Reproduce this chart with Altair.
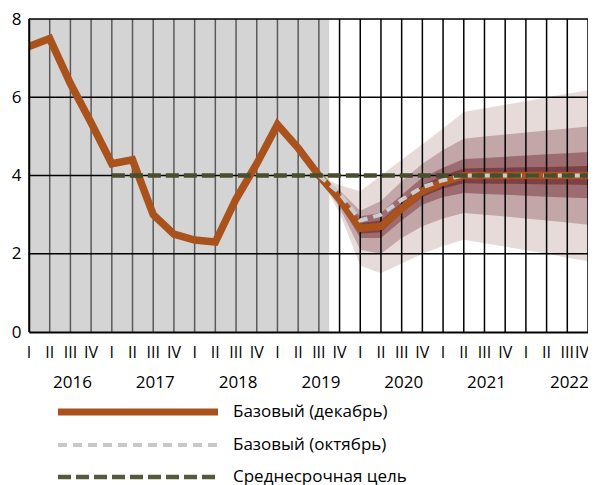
import altair as alt
import pandas as pd

# ---------------- data ----------------
quarter_labels = ["I", "II", "III", "IV"]
years = ["2016", "2017", "2018", "2019", "2020", "2021", "2022"]

# December baseline (actual + forecast), one value per quarter 2016Q1..2022Q4
dec_values = [7.3, 7.5, 6.35, 5.35, 4.3, 4.4, 3.0, 2.5, 2.35, 2.3, 3.4, 4.3,
              5.3, 4.7, 4.0, 3.4, 2.65, 2.7, 3.15, 3.6, 3.83, 4.0, 4.0, 4.0,
              4.0, 4.0, 4.0, 4.0]
# October baseline, from 2019Q3
oct_start = 14
oct_values = [4.0, 3.55, 2.85, 3.0, 3.38, 3.7, 3.88, 4.0, 4.0, 4.0, 4.0, 4.0, 4.0, 4.0]
# medium-term target, from 2017Q1
target_start = 4
target_value = 4.0
# history shading ends between 2019Q3 and 2019Q4
history_end = 14.5

# fan chart bands (from 2019Q3), outer to inner
fan_start = 14
band1_hi = [4.0, 3.75, 3.6, 4.0, 4.4, 4.8, 5.2, 5.62, 5.72, 5.81, 5.9, 6.0, 6.09, 6.18]
band1_lo = [4.0, 3.05, 1.7, 1.5, 1.75, 2.0, 2.2, 2.36, 2.27, 2.18, 2.09, 2.0, 1.9, 1.81]
band2_hi = [4.0, 3.62, 3.1, 3.35, 3.85, 4.3, 4.65, 4.94, 5.0, 5.05, 5.1, 5.15, 5.2, 5.25]
band2_lo = [4.0, 3.18, 2.1, 2.0, 2.4, 2.7, 2.9, 3.04, 3.0, 2.95, 2.9, 2.85, 2.8, 2.74]
band3_hi = [4.0, 3.52, 2.95, 3.05, 3.5, 3.95, 4.2, 4.42, 4.45, 4.48, 4.51, 4.54, 4.57, 4.6]
band3_lo = [4.0, 3.28, 2.4, 2.4, 2.85, 3.25, 3.45, 3.55, 3.53, 3.51, 3.48, 3.46, 3.44, 3.42]
band4_hi = [4.0, 3.46, 2.78, 2.85, 3.3, 3.75, 4.0, 4.18, 4.19, 4.2, 4.21, 4.22, 4.23, 4.24]
band4_lo = [4.0, 3.34, 2.52, 2.55, 3.05, 3.45, 3.67, 3.80, 3.79, 3.79, 3.78, 3.77, 3.77, 3.76]

y_grid = [2, 4, 6, 8]
legend_labels = ["Базовый (декабрь)", "Базовый (октябрь)", "Среднесрочная цель"]

# ---------------- styling ----------------
FONT = "Open Sans"
W, H = 559, 313
ORANGE = "#aa521b"
GRAYLINE = "#cccccc"
GREEN = "#474d2d"
band_colors = ["#e6dbd8", "#c3a6a8", "#9d6c70", "#7e4046"]

n = len(dec_values)
xscale = alt.Scale(domain=[0, n - 1], nice=False, zero=False)
yscale = alt.Scale(domain=[0, 8], nice=False, zero=False)

idx = list(range(n))
df_dec = pd.DataFrame({"q": idx, "v": dec_values})
df_oct = pd.DataFrame({"q": list(range(oct_start, oct_start + len(oct_values))), "v": oct_values})
df_tgt = pd.DataFrame({"q": list(range(target_start, n)), "v": [target_value] * (n - target_start)})
df_vgrid = pd.DataFrame({"q": idx})
df_hgrid = pd.DataFrame({"v": y_grid})
df_shade = pd.DataFrame({"a": [0], "b": [history_end]})
df_years = pd.DataFrame({"q": [4 * i + 2.1 for i in range(len(years))], "t": years})
df_qlab = pd.DataFrame({"q": idx[:-1], "t": [quarter_labels[i % 4] for i in idx[:-1]]})
df_qlast = pd.DataFrame({"q": [idx[-1]], "t": [quarter_labels[idx[-1] % 4]]})

fan_q = list(range(fan_start, fan_start + len(band1_hi)))
bands = [(band1_lo, band1_hi), (band2_lo, band2_hi), (band3_lo, band3_hi), (band4_lo, band4_hi)]

x_axis = alt.Axis(values=idx, labels=False, grid=False, ticks=False, domainColor="black",
                  domainWidth=2, title=None, zindex=1)
y_axis = alt.Axis(values=[0, 2, 4, 6, 8], grid=False, ticks=False, domainColor="black",
                  domainWidth=1.5, labelFont=FONT, labelFontSize=17, labelColor="black",
                  labelPadding=8, title=None, zindex=1)

layers = []
for (lo, hi), col in zip(bands, band_colors):
    d = pd.DataFrame({"q": fan_q, "lo": lo, "hi": hi})
    layers.append(alt.Chart(d).mark_area(color=col, opacity=1, interpolate="linear").encode(
        x=alt.X("q:Q", scale=xscale, axis=x_axis),
        y=alt.Y("lo:Q", scale=yscale, axis=y_axis),
        y2="hi:Q"))

vgrid = alt.Chart(df_vgrid).mark_rule(color="black", strokeWidth=1.5).encode(
    x=alt.X("q:Q", scale=xscale, axis=x_axis), y=alt.datum(0), y2=alt.datum(8))
shade = alt.Chart(df_shade).mark_rect(color="#adadad", opacity=0.52).encode(
    x=alt.X("a:Q", scale=xscale, axis=x_axis), x2="b:Q", y=alt.datum(0), y2=alt.datum(8))
hgrid = alt.Chart(df_hgrid).mark_rule(color="black", strokeWidth=1.3).encode(
    y=alt.Y("v:Q", scale=yscale, axis=y_axis), x=alt.datum(0), x2=alt.datum(n - 1))

dec_line = alt.Chart(df_dec).mark_line(color=ORANGE, strokeWidth=7.5, strokeJoin="miter",
                                       strokeCap="butt").encode(
    x=alt.X("q:Q", scale=xscale, axis=x_axis), y=alt.Y("v:Q", scale=yscale, axis=y_axis))
oct_line = alt.Chart(df_oct).mark_line(color=GRAYLINE, strokeWidth=4, strokeDash=[9, 6]).encode(
    x=alt.X("q:Q", scale=xscale, axis=x_axis), y=alt.Y("v:Q", scale=yscale, axis=y_axis))
tgt_line = alt.Chart(df_tgt).mark_line(color=GREEN, strokeWidth=4.5, strokeDash=[13, 5]).encode(
    x=alt.X("q:Q", scale=xscale, axis=x_axis), y=alt.Y("v:Q", scale=yscale, axis=y_axis))

quarter_text = alt.Chart(df_qlab).mark_text(font=FONT, fontSize=16, color="black",
                                            baseline="middle", align="center").encode(
    x=alt.X("q:Q", scale=xscale, axis=x_axis), y=alt.value(H + 21), text="t:N")
quarter_last = alt.Chart(df_qlast).mark_text(font=FONT, fontSize=16, color="black",
                                             baseline="middle", align="right", dx=1).encode(
    x=alt.X("q:Q", scale=xscale, axis=x_axis), y=alt.value(H + 21), text="t:N")
year_text = alt.Chart(df_years).mark_text(font=FONT, fontSize=17, color="black",
                                          baseline="middle", align="center").encode(
    x=alt.X("q:Q", scale=xscale, axis=x_axis), y=alt.value(H + 51), text="t:N")

# manual legend
leg_y = [H + 80, H + 113, H + 145]
leg_styles = [dict(color=ORANGE, strokeWidth=7),
              dict(color="#c8c8c8", strokeWidth=4, strokeDash=[9, 6]),
              dict(color="#545a3a", strokeWidth=4.5, strokeDash=[13, 5])]
leg_layers = []
for i, (lab, st) in enumerate(zip(legend_labels, leg_styles)):
    d = pd.DataFrame({"t": [lab]})
    leg_layers.append(alt.Chart(d).mark_rule(**st).encode(
        x=alt.value(29), x2=alt.value(189), y=alt.value(leg_y[i])))
    leg_layers.append(alt.Chart(d).mark_text(font=FONT, fontSize=17, color="black",
                                             align="left", baseline="middle").encode(
        x=alt.value(204), y=alt.value(leg_y[i]), text="t:N"))

chart = alt.layer(*layers, vgrid, shade, hgrid, dec_line, oct_line, tgt_line,
                  quarter_text, quarter_last, year_text, *leg_layers).properties(
    width=W, height=H,
    autosize=alt.AutoSizeParams(type="none"),
    padding={"left": 21, "top": 11, "right": 0, "bottom": 153},
).configure_view(stroke=None).configure(background="white")

chart.save("out.html", embed_options={"renderer": "svg", "actions": False})
